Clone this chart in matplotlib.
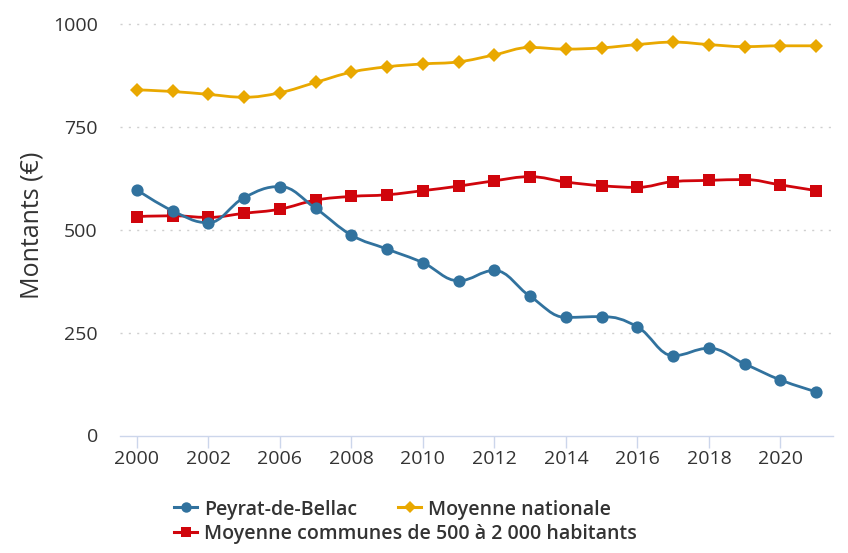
import matplotlib
matplotlib.use("Agg")
import matplotlib.pyplot as plt
from matplotlib.path import Path
from matplotlib.patches import PathPatch
from matplotlib.lines import Line2D
import numpy as np

# ---------------- data ----------------
years = [2000, 2001, 2002, 2005, 2006, 2007, 2008, 2009, 2010, 2011,
         2012, 2013, 2014, 2015, 2016, 2017, 2018, 2019, 2020, 2021]
tick_years = [2000, 2002, 2006, 2008, 2010, 2012, 2014, 2016, 2018, 2020]

peyrat = [597, 546, 517, 578, 605, 552, 487, 453, 420, 376,
          401, 338, 287, 289, 264, 194, 212, 174, 135, 106]
communes = [532, 534, 530, 540, 550, 572, 581, 585, 595, 606,
            619, 629, 616, 607, 603, 617, 620, 622, 609, 595]
nationale = [840, 836, 829, 822, 833, 858, 883, 896, 903, 908,
             925, 943, 939, 942, 950, 956, 950, 945, 947, 947]

series_names = ["Peyrat-de-Bellac", "Moyenne nationale",
                "Moyenne communes de 500 à 2 000 habitants"]
yticks = [0, 250, 500, 750, 1000]

# ---------------- style ----------------
BLUE = "#31729e"
YELLOW = "#e9a800"
RED = "#d0050c"
TXT = "#333333"
AXC = "#ccd6eb"
FONT = ["Open Sans", "DejaVu Sans"]
plt.rcParams["font.family"] = FONT

W, H = 848, 553
fig = plt.figure(figsize=(W / 100, H / 100), dpi=100)
ax = fig.add_axes([120 / W, 1 - 435.5 / H, 713 / W, 411.5 / H])

x = np.arange(len(years), dtype=float)


def spline_path(xs, ys, smoothing=1.5):
    """Highcharts-like spline built from cubic Bezier segments."""
    n = len(xs)
    denom = smoothing + 1
    left = [(xs[i], ys[i]) for i in range(n)]
    right = [(xs[i], ys[i]) for i in range(n)]
    for i in range(1, n - 1):
        px, py = xs[i], ys[i]
        lx, ly = xs[i - 1], ys[i - 1]
        nx, ny = xs[i + 1], ys[i + 1]
        lcx = (smoothing * px + lx) / denom
        lcy = (smoothing * py + ly) / denom
        rcx = (smoothing * px + nx) / denom
        rcy = (smoothing * py + ny) / denom
        if rcx != lcx:
            corr = ((rcy - lcy) * (rcx - px)) / (rcx - lcx) + py - rcy
            lcy += corr
            rcy += corr
        if lcy > ly and lcy > py:
            lcy = max(ly, py)
            rcy = 2 * py - lcy
        elif lcy < ly and lcy < py:
            lcy = min(ly, py)
            rcy = 2 * py - lcy
        if rcy > ny and rcy > py:
            rcy = max(ny, py)
            lcy = 2 * py - rcy
        elif rcy < ny and rcy < py:
            rcy = min(ny, py)
            lcy = 2 * py - rcy
        left[i] = (lcx, lcy)
        right[i] = (rcx, rcy)
    verts = [(xs[0], ys[0])]
    codes = [Path.MOVETO]
    for i in range(1, n):
        verts += [right[i - 1], left[i], (xs[i], ys[i])]
        codes += [Path.CURVE4] * 3
    return Path(verts, codes)


def draw_series(vals, color, marker, ms, z):
    p = spline_path(x, np.asarray(vals, dtype=float))
    ax.add_patch(PathPatch(p, facecolor="none", edgecolor=color,
                           lw=2.0, zorder=z, capstyle="round",
                           joinstyle="round"))
    ax.plot(x, vals, linestyle="none", marker=marker, ms=ms,
            color=color, markeredgewidth=0, zorder=z + 0.5)


draw_series(nationale, YELLOW, "D", 7.6, 3)
draw_series(communes, RED, "s", 8.4, 4)
draw_series(peyrat, BLUE, "o", 8.8, 5)

# ---------------- axes ----------------
ax.set_xlim(-0.47, len(years) - 1 + 0.47)
ax.set_ylim(0, 1000)
for s in ["top", "right", "left"]:
    ax.spines[s].set_visible(False)
ax.spines["bottom"].set_color(AXC)
ax.spines["bottom"].set_linewidth(1.0)

for yv in yticks[1:]:
    ax.axhline(yv, color="#cfcfcf", lw=1.0, linestyle=(0, (1.5, 4.5)),
               zorder=1, clip_on=False)

tick_pos = [years.index(t) for t in tick_years]
ax.set_xticks(tick_pos)
ax.set_xticklabels([str(t) for t in tick_years])
ax.tick_params(axis="x", length=8.8, width=1.0, color=AXC, pad=1.5,
               labelsize=14, labelcolor=TXT)
ax.set_yticks(yticks)
ax.set_yticklabels([str(v) for v in yticks])
ax.tick_params(axis="y", length=0, pad=16, labelsize=14, labelcolor=TXT)

fig.text(32 / W, 1 - 225 / H, "Montants (€)", rotation=90, ha="center",
         va="center", fontsize=18, color=TXT)

# ---------------- legend ----------------
legend_items = [
    (series_names[0], BLUE, "o", 7.5, 174, 507),
    (series_names[1], YELLOW, "D", 6.5, 398, 507),
    (series_names[2], RED, "s", 7.5, 174, 532),
]
for name, col, mk, ms, lx, ly in legend_items:
    yf = 1 - ly / H
    fig.add_artist(Line2D([lx / W, (lx + 23) / W], [yf, yf], color=col,
                          lw=2.2, transform=fig.transFigure))
    fig.add_artist(Line2D([(lx + 11.5) / W], [yf], color=col, marker=mk,
                          ms=ms, markeredgewidth=0, linestyle="none",
                          transform=fig.transFigure))
    fig.text((lx + 30) / W, yf, name, ha="left", va="center_baseline",
             fontsize=14, fontweight="semibold", color=TXT)

fig.savefig("out.png", dpi=100)
